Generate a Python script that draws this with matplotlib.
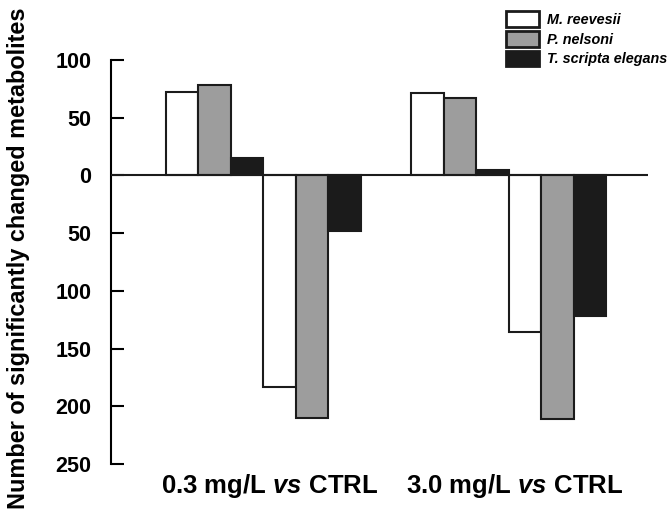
import matplotlib.pyplot as plt
import numpy as np

plt.rcParams["font.family"] = "Liberation Sans"
plt.rcParams["mathtext.fontset"] = "custom"
plt.rcParams["mathtext.bfit"] = "Liberation Sans:italic:bold"

comparisons = ["0.3 mg/L $\\mathbfit{vs}$ CTRL", "3.0 mg/L $\\mathbfit{vs}$ CTRL"]
species = ["M. reevesii", "P. nelsoni", "T. scripta elegans"]
colors = ["white", "#9d9d9d", "#1b1b1b"]

# up / down changed metabolite counts, one list per species (per comparison)
up_reevesii = [72, 71]
up_nelsoni = [78, 67]
up_scripta = [15, 5]
down_reevesii = [183, 136]
down_nelsoni = [210, 211]
down_scripta = [48, 122]

up_counts = [up_reevesii, up_nelsoni, up_scripta]
down_counts = [down_reevesii, down_nelsoni, down_scripta]

y_ticks = [100, 50, 0, -50, -100, -150, -200, -250]

fig = plt.figure(figsize=(6.71, 5.16), dpi=100)
ax = fig.add_axes([0.1654, 0.1008, 0.8003, 0.7829])

group_gap = 7.54
centers = np.arange(len(comparisons)) * group_gap

for i, name in enumerate(species):
    ax.bar(centers - 2.5 + i, up_counts[i], width=1.0, color=colors[i],
           edgecolor="#1b1b1b", linewidth=1.5, label=name, zorder=2)
    ax.bar(centers + 0.5 + i, [-v for v in down_counts[i]], width=1.0,
           color=colors[i], edgecolor="#1b1b1b", linewidth=1.5, zorder=2)

ax.axhline(0, color="#1b1b1b", linewidth=1.5, zorder=3)

ax.set_xlim(-4.69, 11.83)
ax.set_ylim(-250, 100)
ax.set_yticks(y_ticks)
ax.set_yticklabels([str(abs(t)) for t in y_ticks], fontsize=15.5, fontweight="bold")
ax.tick_params(axis="y", direction="in", length=9.5, width=1.5, pad=14)

ax.set_xticks(centers + 0.2)
ax.set_xticklabels(comparisons, fontsize=18.5, fontweight="bold")
ax.tick_params(axis="x", length=0, pad=6)

for side in ["top", "right", "bottom"]:
    ax.spines[side].set_visible(False)
ax.spines["left"].set_linewidth(1.5)

fig.text(0.028, 0.5, "Number of significantly changed metabolites", rotation=90,
         ha="center", va="center", fontsize=16.9, fontweight="bold")

leg = fig.legend(loc="upper left", bbox_to_anchor=(506 / 671, 1 - 11 / 516),
                 frameon=False, borderpad=0, borderaxespad=0,
                 handlelength=2.3, handleheight=1.3, labelspacing=0.28,
                 handletextpad=0.55,
                 prop={"size": 10.4, "weight": "bold", "style": "italic"})
for patch in leg.get_patches():
    patch.set_linewidth(2)

fig.savefig("out.png", dpi=100)
